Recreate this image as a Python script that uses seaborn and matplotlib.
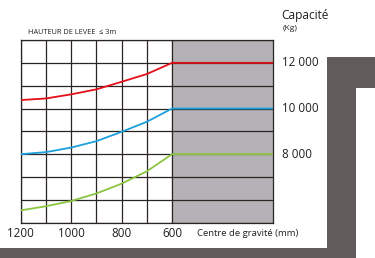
import numpy as np
import pandas as pd
import matplotlib
matplotlib.use("Agg")
import matplotlib.pyplot as plt
import seaborn as sns
from matplotlib.patches import Polygon

# centre of gravity (mm) and capacity (kg)
cg = [1200, 1100, 1000, 900, 800, 700, 600, 200]
cap_12000 = [10370, 10440, 10620, 10840, 11170, 11510, 12000, 12000]
cap_10000 = [8000, 8090, 8290, 8570, 8980, 9420, 10000, 10000]
cap_8000 = [5540, 5720, 5950, 6280, 6710, 7250, 8000, 8000]

series_names = ["12 000", "10 000", "8 000"]
series_colors = ["#e30f1b", "#1ba0db", "#8bc53f"]

x_labels = ["1200", "1000", "800", "600"]
y_labels = ["12 000", "10 000", "8 000"]

df = pd.DataFrame({
    "cg": cg * 3,
    "cap": cap_12000 + cap_10000 + cap_8000,
    "serie": [n for n in series_names for _ in cg],
})

sns.set_style("white")
plt.rcParams["font.family"] = ["Open Sans", "DejaVu Sans"]

fig = plt.figure(figsize=(3.75, 2.58), dpi=100)
dark = "#625b5c"
txt = "#231f20"

# forklift frame decoration (figure coords)
W, H = 375.0, 258.0
def fx(x):
    return x / W
def fy(y):
    return 1 - y / H

frame = Polygon([(fx(0), fy(248)), (fx(327), fy(248)), (fx(327), fy(57)),
                 (fx(375), fy(57)), (fx(375), fy(88)), (fx(356), fy(88)),
                 (fx(356), fy(258)), (fx(0), fy(258))],
                closed=True, transform=fig.transFigure, facecolor=dark,
                edgecolor="none", zorder=0)
fig.patches.append(frame)

ax = fig.add_axes([20.7 / W, 1 - 222.7 / H, 252.3 / W, 182.7 / H])
ax.axvspan(600, 200, color="#b4b2b6", zorder=0)

sns.lineplot(data=df, x="cg", y="cap", hue="serie", palette=series_colors,
             hue_order=series_names, linewidth=1.3, ax=ax, legend=False,
             zorder=3)

ax.set_xlim(1200, 200)
ax.set_ylim(5000, 13000)
# vertical grid only over the white part
ax.set_xticks(np.arange(600, 1201, 100))
ax.set_yticks(np.arange(5000, 13001, 1000))
ax.set_xticklabels([])
ax.set_yticklabels([])
ax.grid(True, color="#2a2422", linewidth=0.9)
ax.set_axisbelow(False)
for s in ax.spines.values():
    s.set_color("#2a2422")
    s.set_linewidth(0.9)
ax.tick_params(length=0)
ax.set_xlabel("")
ax.set_ylabel("")

for lab in x_labels:
    ax.text(float(lab), -0.06, lab, transform=ax.get_xaxis_transform(),
            ha="center", va="center", fontsize=8.4, color=txt)
for lab in y_labels:
    ax.text(1.035, float(lab.replace(" ", "")), lab,
            transform=ax.get_yaxis_transform(), ha="left", va="center",
            fontsize=8.4, color=txt)

fig.text(fx(197), fy(233), "Centre de gravité (mm)", ha="left", va="center",
         fontsize=6.8, color=txt)
fig.text(fx(281), fy(16), "Capacité", ha="left", va="center",
         fontsize=8.6, color=txt)
fig.text(fx(283), fy(28.5), "(Kg)", ha="left", va="center",
         fontsize=6.0, color=txt)
fig.text(fx(28), fy(33), "HAUTEUR DE LEVEE  ≤ 3m", ha="left", va="center",
         fontsize=5.3, color=txt)

fig.savefig("out.png", dpi=100)
